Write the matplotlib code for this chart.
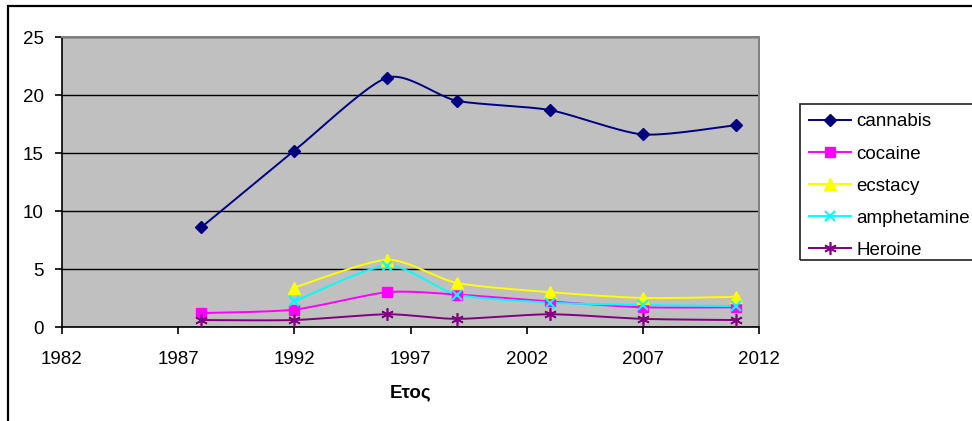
import numpy as np
import matplotlib
matplotlib.use("Agg")
import matplotlib.pyplot as plt
from matplotlib.patches import Rectangle
from matplotlib.lines import Line2D

plt.rcParams['font.family'] = ['Liberation Sans', 'DejaVu Sans']

# Survey years and prevalence values per substance
years_cannabis = [1988, 1992, 1996, 1999, 2003, 2007, 2011]
cannabis = [8.6, 15.2, 21.5, 19.5, 18.7, 16.6, 17.4]

years_cocaine = [1988, 1992, 1996, 1999, 2003, 2007, 2011]
cocaine = [1.2, 1.5, 3.0, 2.8, 2.2, 1.7, 1.7]

years_ecstacy = [1992, 1996, 1999, 2003, 2007, 2011]
ecstacy = [3.4, 5.8, 3.8, 3.0, 2.5, 2.6]

years_amphetamine = [1992, 1996, 1999, 2003, 2007, 2011]
amphetamine = [2.2, 5.3, 2.8, 2.1, 1.9, 1.8]

years_heroine = [1988, 1992, 1996, 1999, 2003, 2007, 2011]
heroine = [0.6, 0.6, 1.1, 0.7, 1.1, 0.7, 0.6]

x_ticks = [1982, 1987, 1992, 1997, 2002, 2007, 2012]
y_ticks = [0, 5, 10, 15, 20, 25]

FS = 13.5


def smooth(xs, ys, t=0.12, n=40):
    """Cubic Bezier smoothing through every point (spreadsheet-style curve)."""
    p = np.column_stack([xs, ys]).astype(float)
    out = [p[0]]
    for i in range(len(p) - 1):
        p0 = p[i - 1] if i > 0 else p[i]
        p1, p2 = p[i], p[i + 1]
        p3 = p[i + 2] if i + 2 < len(p) else p[i + 1]
        c1 = p1 + (p2 - p0) * t
        c2 = p2 - (p3 - p1) * t
        s = np.linspace(0, 1, n)[1:, None]
        seg = ((1 - s) ** 3) * p1 + 3 * ((1 - s) ** 2) * s * c1 + 3 * (1 - s) * s ** 2 * c2 + s ** 3 * p2
        out.extend(seg)
    out = np.array(out)
    return out[:, 0], out[:, 1]


W, H = 972, 421
fig = plt.figure(figsize=(W / 100, H / 100), dpi=100)
fig.patch.set_facecolor('white')

# outer chart frame (top and left edges fall inside the image)
fig.add_artist(Rectangle((8 / W, -0.1), 1.2, 1 - 6 / H + 0.1, transform=fig.transFigure,
                         fill=False, edgecolor='black', linewidth=1.6))

ax = fig.add_axes([62 / W, 1 - 327 / H, (759 - 62) / W, (327 - 37) / H])
ax.set_facecolor('#C0C0C0')

series = [
    ('cannabis', years_cannabis, cannabis, '#000080', 'D', 6.5, {}),
    ('cocaine', years_cocaine, cocaine, '#FF00FF', 's', 6.5, {}),
    ('ecstacy', years_ecstacy, ecstacy, '#FFFF00', '^', 8, {}),
    ('amphetamine', years_amphetamine, amphetamine, '#00FFFF', 'x', 7, {'markeredgewidth': 1.5}),
    ('Heroine', years_heroine, heroine, '#800080', (6, 2, 0), 9, {'markeredgewidth': 1.2}),
]

handles = []
for name, xs, ys, col, mk, ms, extra in series:
    sx, sy = smooth(xs, ys)
    ax.plot(sx, sy, color=col, linewidth=1.4, zorder=3)
    ax.plot(xs, ys, linestyle='none', marker=mk, markersize=ms, color=col,
            markeredgecolor=col, zorder=4, **extra)
    handles.append(Line2D([], [], color=col, linewidth=1.4, marker=mk, markersize=ms,
                          markeredgecolor=col, label=name, **extra))

ax.set_xlim(1982, 2012)
ax.set_ylim(0, 25)
ax.set_xticks(x_ticks)
ax.set_yticks(y_ticks)
ax.yaxis.grid(True, color='black', linewidth=1.0)
ax.set_axisbelow(True)

for side in ('top', 'right'):
    ax.spines[side].set_color('#808080')
    ax.spines[side].set_linewidth(1.4)
for side in ('left', 'bottom'):
    ax.spines[side].set_color('black')
    ax.spines[side].set_linewidth(1.2)

ax.tick_params(axis='both', direction='out', length=5, width=1.2, color='black',
               labelsize=FS, labelcolor='black')
ax.tick_params(axis='x', pad=12)
ax.tick_params(axis='y', pad=8)

ax.set_xlabel('Ετος', fontsize=FS, fontweight='bold', labelpad=12)

# legend box
fig.add_artist(Rectangle((800 / W, 1 - 260 / H), 0.3, (260 - 104) / H, transform=fig.transFigure,
                         fill=False, edgecolor='#202020', linewidth=1.2))
fig.legend(handles=handles, loc='upper left', bbox_to_anchor=(800 / W, 1 - 104 / H),
           frameon=False, fontsize=FS, handlelength=2.2, handletextpad=0.3,
           labelspacing=0.8, borderpad=0.5, borderaxespad=0)

fig.savefig('out.png', dpi=100, facecolor='white')
